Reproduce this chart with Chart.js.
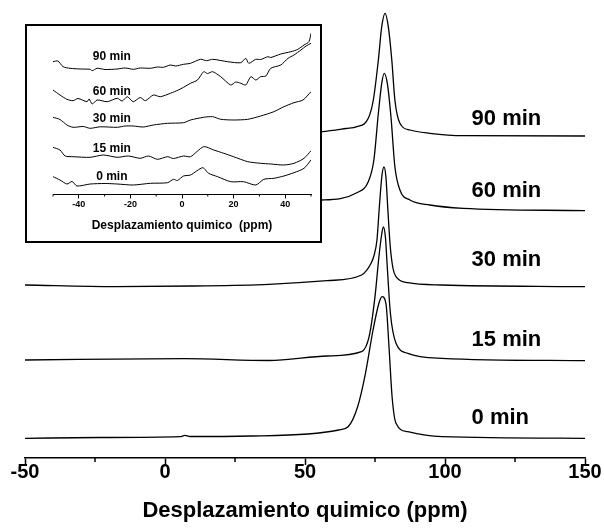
<!DOCTYPE html>
<html>
<head>
<meta charset="utf-8">
<script src="https://cdn.jsdelivr.net/npm/chart.js@4"></script>
<style>
  html, body { margin: 0; padding: 0; background: #fff; }
  #wrap { position: relative; width: 604px; height: 532px; }
  #mainChart { position: absolute; left: 0; top: 0; }
  #insetBox { position: absolute; left: 25px; top: 24px; width: 293px; height: 215px; border: 2px solid #000; background: #fff; }
  #insetChart { display: block; }
</style>
</head>
<body>
<div id="wrap">
  <canvas id="mainChart" width="604" height="532"></canvas>
  <div id="insetBox"><canvas id="insetChart" width="293" height="215"></canvas></div>
</div>
<script>
// Spectra labels (bottom to top)
const timeLabels = ['0 min', '15 min', '30 min', '60 min', '90 min'];

// Full spectra: chemical shift (ppm) and stacked intensity (a.u.)
const ppm0  = [-50, -23.2, 5.4, 7.1, 8.9, 30.4, 51, 62, 65.4, 68.8, 71.6, 74.3, 76.4, 77.5, 78.9, 80, 81.1, 82.5, 86.7, 98.9, 150];
const int0  = [19.7, 20.5, 21.3, 22.6, 21.5, 22, 24, 28, 31.3, 51.3, 84.7, 128, 154.7, 161.3, 154.7, 111.3, 61.3, 34.7, 26.3, 21.3, 19.7];
const ppm15 = [-50, 7, 37.1, 57.9, 70.2, 72.9, 75, 76.4, 77.3, 78, 78.75, 79.3, 80.5, 82.5, 86.7, 98.9, 150];
const int15 = [98, 99.3, 97.5, 102, 106.3, 121.3, 161.3, 201.3, 222, 231, 220, 195, 144.7, 114.7, 104.7, 99.7, 97.3];
const ppm30 = [-50, -17.7, 9.6, 37.1, 57.9, 70.2, 73.6, 74.6, 75.7, 76.6, 77.5, 78.2, 78.9, 79.6, 80.4, 81.4, 82.5, 86.7, 98.9, 150];
const int30 = [173, 171.3, 172, 173.7, 177.3, 183, 194.7, 202, 218, 253, 283, 291, 281, 248, 213, 190, 181.3, 175.3, 173, 171.3];
const ppm60 = [-50, 56.1, 68.5, 72.6, 74.6, 76.2, 77.4, 78.3, 79.4, 80.7, 82.1, 83.9, 87.5, 94.6, 106.5, 150];
const int60 = [254, 258, 265.3, 276.3, 298, 344.7, 374.7, 384.7, 374.7, 341.3, 291.3, 268, 258, 253, 249.7, 247.3];
const ppm90 = [-50, 12.5, 56.1, 64.6, 68.5, 72.6, 74.4, 76.2, 77.4, 78.6, 79.75, 81, 82.1, 83.9, 87.5, 94.6, 106.5, 150];
const int90 = [320, 322, 326.3, 329.5, 331.3, 339.7, 358, 398, 431.3, 444.7, 431.3, 398, 358, 334.7, 328, 324.7, 322.3, 322];

// Zoomed region -50..50 ppm
const zPpm0  = [-50, -47.3, -44.6, -42.6, -40.7, -35.6, -29.8, -25.1, -18.9, -12.3, -5.6, -3.3, -1.8, 0.6, 3.3, 8, 10.3, 13.8, 18.9, 23.9, 28.6, 31.7, 35.6, 39.5, 43.4, 47.3, 50];
const zInt0  = [17.8, 14.5, 10.5, 13, 8.5, 10.5, 11, 10.5, 9.5, 11.2, 11.8, 15.2, 14, 18.5, 19.5, 26.8, 21.2, 17.8, 12.8, 12.8, 9.5, 15.2, 16.2, 18.5, 21.8, 26.2, 34.5];
const zPpm15 = [-50, -47.3, -45.3, -42.2, -35.6, -30.5, -25.1, -20.8, -16.2, -13, -9.5, -5.6, -3.3, 0.6, 3.3, 8.4, 12.3, 16.2, 20, 25.5, 30.5, 34.4, 39.5, 43.4, 47.3, 50];
const zInt15 = [47.2, 44.5, 38.5, 37.8, 37.2, 39.5, 37.2, 38.5, 36.2, 38.5, 35.2, 37.8, 36, 38.5, 37.8, 47.8, 44.5, 41.2, 37.8, 32.8, 31.2, 30.5, 29.5, 31.2, 36.2, 43.8];
const zPpm30 = [-50, -47.3, -44.6, -42.2, -38.3, -35.6, -31.7, -25.1, -22, -18.9, -15, -11.1, -5.6, 0.6, 3.3, 8.4, 11.9, 15, 20, 25.5, 30.5, 35.6, 39.5, 43.4, 46.9, 50];
const zInt30 = [77.2, 75, 69.5, 67.2, 68, 66.2, 67.7, 67.2, 68.5, 68.5, 67.5, 69.5, 71.2, 71.8, 74.5, 77.2, 77.8, 75.2, 74.5, 75.2, 78.5, 82.8, 87.8, 91.8, 94.5, 102.8];
const zPpm60 = [-50, -47.3, -44.6, -42.2, -40.3, -36.8, -36, -34.8, -32.9, -29, -25.1, -23.2, -21.2, -18.9, -16.2, -14.2, -11.1, -8.4, -4.5, -1.4, 0.6, 3.3, 6, 8.4, 9.9, 11.9, 15, 18.9, 20.8, 22.8, 24.7, 26.7, 28.6, 30.5, 32.5, 34.4, 38.3, 41.1, 43.4, 46.1, 48.1, 50];
const zInt60 = [104.5, 99.5, 95.2, 93.8, 96, 92.8, 95.5, 90.5, 94.5, 92.8, 96.2, 93.5, 97.8, 92.8, 97, 93.8, 99.5, 97.8, 101.2, 104.5, 107.2, 111.2, 114.5, 122.8, 121, 122.8, 117.8, 109.5, 112.5, 111.2, 109.5, 117.8, 114.5, 117.8, 118.5, 126.2, 129.5, 136.2, 139.5, 144.5, 148.5, 151.2];
const zPpm90 = [-50, -48.1, -46.1, -43.4, -39.5, -35.6, -34.8, -32.9, -29.8, -25.1, -22, -18.9, -16.2, -12.3, -9.5, -7.2, -4.5, -2.5, 0.6, 3.3, 7.2, 9.5, 11.9, 17.7, 22.8, 24.7, 25.9, 28.6, 30.5, 33.3, 34.4, 38.3, 42.2, 44.9, 47.3, 49.2, 50];
const zInt90 = [132.8, 133.5, 127.8, 126.2, 125.5, 125.2, 123.8, 126.2, 125, 125.5, 126.5, 125.2, 126.5, 126.2, 127.5, 127.2, 129.5, 128.5, 130.2, 131.2, 135.2, 133.8, 135.2, 132.8, 131.8, 136.2, 131.2, 135.2, 135, 137.8, 137, 140.5, 142.8, 145.2, 149.5, 152.8, 161.2];

const FONT = '"Liberation Sans", Arial, Helvetica, sans-serif';

function toPoints(xs, ys) {
  return xs.map((x, i) => ({ x: x, y: ys[i] }));
}

// short unlabeled ticks between the labelled ones
const minorTicks = {
  id: 'minorTicks',
  afterDraw(chart, args, opts) {
    const s = chart.scales.x;
    const ctx = chart.ctx;
    ctx.save();
    ctx.strokeStyle = '#000';
    ctx.lineWidth = opts.width;
    s.ticks.forEach(t => {
      if (t.label !== '') return;
      const px = s.getPixelForValue(t.value);
      ctx.beginPath();
      ctx.moveTo(px, s.top);
      ctx.lineTo(px, s.top + opts.length);
      ctx.stroke();
    });
    ctx.restore();
  }
};

// time labels next to each spectrum
const curveLabels = {
  id: 'curveLabels',
  afterDatasetsDraw(chart, args, opts) {
    const ctx = chart.ctx;
    const sx = chart.scales.x, sy = chart.scales.y;
    ctx.save();
    ctx.fillStyle = '#000';
    ctx.font = opts.font;
    ctx.textAlign = opts.align;
    ctx.textBaseline = 'middle';
    timeLabels.forEach((txt, i) => {
      ctx.fillText(txt, sx.getPixelForValue(opts.x), sy.getPixelForValue(opts.y[i]));
    });
    ctx.restore();
  }
};

function lineSets(pairs, width, extra) {
  return pairs.map(p => Object.assign({
    data: toPoints(p[0], p[1]),
    borderColor: '#000',
    borderWidth: width,
    pointRadius: 0,
    fill: false
  }, extra));
}

new Chart(document.getElementById('mainChart'), {
  type: 'line',
  data: {
    datasets: lineSets([[ppm0, int0], [ppm15, int15], [ppm30, int30], [ppm60, int60], [ppm90, int90]],
      1.3, { cubicInterpolationMode: 'monotone' })
  },
  options: {
    responsive: false,
    animation: false,
    layout: { padding: { left: 25, right: 19, top: 8, bottom: 0 } },
    plugins: {
      legend: { display: false },
      tooltip: { enabled: false },
      minorTicks: { length: 4, width: 1.5 },
      curveLabels: { x: 109.5, y: [39.7, 118, 198, 267.3, 339], align: 'left', font: 'bold 22px ' + FONT }
    },
    scales: {
      x: {
        type: 'linear', min: -50, max: 150,
        ticks: {
          stepSize: 25, autoSkip: false, maxRotation: 0, padding: -2.5, color: '#000',
          font: { family: FONT, size: 20, weight: 'bold', lineHeight: 1 },
          callback: v => (v % 50 === 0 ? String(v) : '')
        },
        grid: {
          drawOnChartArea: false, tickLength: 7, tickWidth: 1.5,
          tickColor: c => (c.tick && c.tick.value % 50 === 0 ? '#000' : 'rgba(0,0,0,0)')
        },
        border: { display: true, color: '#000', width: 1.5 },
        title: {
          display: true, text: 'Desplazamiento quimico (ppm)', color: '#000',
          font: { family: FONT, size: 22, weight: 'bold' }, padding: { top: 0, bottom: 8 }
        },
        afterFit: s => { s.height = 74; }
      },
      y: { display: false, min: 0, max: 450 }
    }
  },
  plugins: [minorTicks, curveLabels]
});

new Chart(document.getElementById('insetChart'), {
  type: 'line',
  data: {
    datasets: lineSets([[zPpm0, zInt0], [zPpm15, zInt15], [zPpm30, zInt30], [zPpm60, zInt60], [zPpm90, zInt90]],
      1, { tension: 0.25 })
  },
  options: {
    responsive: false,
    animation: false,
    layout: { padding: { left: 26, right: 9, top: 4, bottom: 0 } },
    plugins: {
      legend: { display: false },
      tooltip: { enabled: false },
      minorTicks: { length: 2, width: 1 },
      curveLabels: { x: -27.2, y: [17.8, 46.2, 76.2, 102.8, 137.8], align: 'center', font: 'bold 12px ' + FONT }
    },
    scales: {
      x: {
        type: 'linear', min: -50, max: 50,
        ticks: {
          stepSize: 10, autoSkip: false, maxRotation: 0, padding: 2, color: '#000',
          font: { family: FONT, size: 9, weight: 'bold', lineHeight: 1 },
          callback: v => (v % 20 === 0 ? String(v) : '')
        },
        grid: {
          drawOnChartArea: false, tickLength: 4, tickWidth: 1,
          tickColor: c => (c.tick && c.tick.value % 20 === 0 ? '#000' : 'rgba(0,0,0,0)')
        },
        border: { display: true, color: '#000', width: 1 },
        title: {
          display: true, text: 'Desplazamiento quimico  (ppm)', color: '#000',
          font: { family: FONT, size: 12, weight: 'bold' }, padding: { top: 0, bottom: 8 }
        },
        afterFit: s => { s.height = 46.5; }
      },
      y: { display: false, min: 0, max: 164.5 }
    }
  },
  plugins: [minorTicks, curveLabels]
});
</script>
</body>
</html>
